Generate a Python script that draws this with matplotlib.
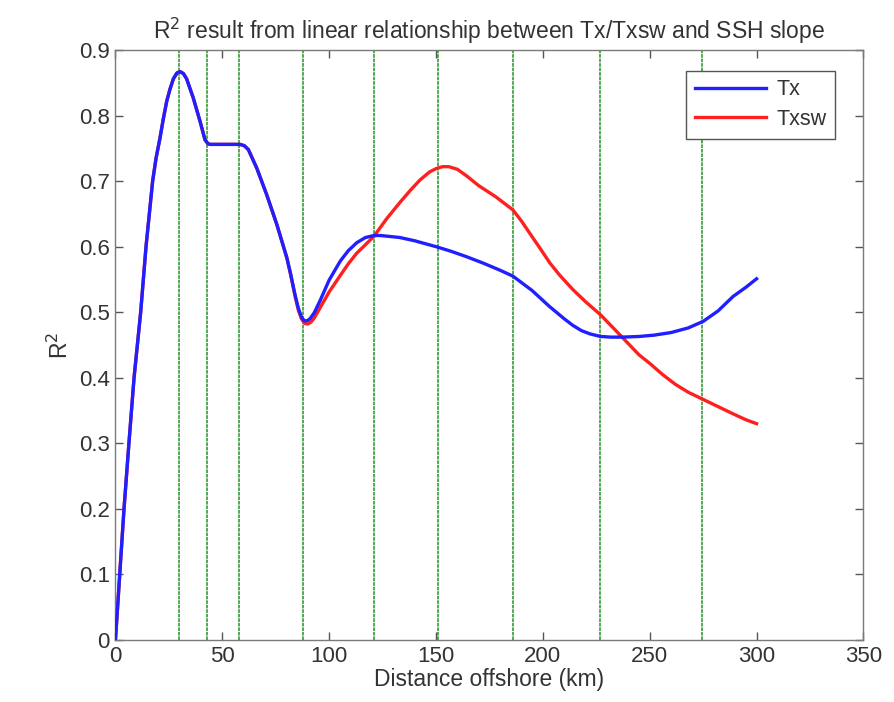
import matplotlib
matplotlib.use("Agg")
import matplotlib.pyplot as plt

plt.rcParams['font.family'] = ['Liberation Sans', 'DejaVu Sans']

# Distance offshore (km) and R^2 values
tx_x = [0, 2.0, 4.0, 6.3, 8.7, 11.8, 14.3, 17.4, 19.0, 20.8, 22.4, 24.0, 25.5, 27.1, 28.8,
        30.2, 31.8, 33.3, 36.4, 39.6, 41.9, 43.3, 44.3, 50, 55, 58.3, 60.3, 62.2, 66.1,
        70.8, 75.5, 80.2, 82.0, 84.0, 85.6, 87.0, 88.3, 89.7, 91.0, 93.0, 95.8, 100,
        105.2, 109, 112.9, 117, 121, 124, 127, 133, 140, 150, 157, 164, 172, 180, 186,
        195, 203, 210, 214, 218, 222, 227, 232, 237, 245, 252, 260, 268, 275, 282, 289,
        295, 300]
tx_y = [0, 0.10, 0.20, 0.30, 0.40, 0.50, 0.60, 0.70, 0.735, 0.765, 0.795, 0.822, 0.840,
        0.856, 0.865, 0.867, 0.864, 0.856, 0.827, 0.791, 0.763, 0.757, 0.756, 0.756,
        0.756, 0.756, 0.754, 0.748, 0.720, 0.679, 0.634, 0.583, 0.558, 0.527, 0.506,
        0.493, 0.487, 0.487, 0.490, 0.499, 0.518, 0.549, 0.578, 0.594, 0.606, 0.614,
        0.617, 0.617, 0.616, 0.614, 0.609, 0.600, 0.593, 0.585, 0.575, 0.564, 0.555,
        0.533, 0.509, 0.490, 0.480, 0.472, 0.467, 0.463, 0.462, 0.462, 0.463, 0.465,
        0.469, 0.476, 0.486, 0.502, 0.524, 0.538, 0.551]

txsw_x = [0, 2.0, 4.0, 6.3, 8.7, 11.8, 14.3, 17.4, 19.0, 20.8, 22.4, 24.0, 25.5, 27.1, 28.8,
          30.2, 31.8, 33.3, 36.4, 39.6, 41.9, 43.3, 44.3, 50, 55, 58.3, 60.3, 62.2, 66.1,
          70.8, 75.5, 80.2, 82.0, 84.0, 85.6, 87.0, 88.5, 90.0, 91.5, 93.0, 95.8, 100,
          105.2, 109, 112.9, 117, 121, 127, 133, 138, 142.6, 147, 150, 153, 156, 160,
          164.3, 170, 178, 186, 190, 195, 199, 203.3, 208, 214.2, 220, 227, 236.8, 245,
          250, 256, 262, 268, 275, 282, 289, 295, 300]
txsw_y = [0, 0.10, 0.20, 0.30, 0.40, 0.50, 0.60, 0.70, 0.735, 0.765, 0.795, 0.822, 0.840,
          0.856, 0.865, 0.867, 0.864, 0.856, 0.827, 0.791, 0.763, 0.757, 0.756, 0.756,
          0.756, 0.756, 0.754, 0.748, 0.720, 0.679, 0.634, 0.583, 0.557, 0.525, 0.503,
          0.490, 0.483, 0.482, 0.485, 0.491, 0.507, 0.531, 0.556, 0.574, 0.590, 0.603,
          0.616, 0.643, 0.667, 0.686, 0.702, 0.714, 0.719, 0.722, 0.722, 0.718, 0.708,
          0.693, 0.676, 0.656, 0.639, 0.615, 0.596, 0.575, 0.556, 0.534, 0.516, 0.496,
          0.463, 0.435, 0.422, 0.405, 0.390, 0.378, 0.367, 0.356, 0.345, 0.336, 0.330]

# Vertical reference lines (km)
vlines_x = [29.7, 42.7, 57.8, 87.7, 120.8, 150.7, 185.9, 226.9, 274.6]

xticks = [0, 50, 100, 150, 200, 250, 300, 350]
yticks = [0, 0.1, 0.2, 0.3, 0.4, 0.5, 0.6, 0.7, 0.8, 0.9]

fig = plt.figure(figsize=(8.95, 7.02), dpi=100)
ax = fig.add_axes([0.129, 0.0883, 0.8357, 0.8405])

for xv in vlines_x:
    ax.axvline(xv, color='#46a046', linestyle=(0, (2.0, 0.5)), linewidth=1.3, zorder=1)

ax.plot(tx_x, tx_y, color='#1f1fff', linewidth=2.4, label='Tx', zorder=3,
        solid_joinstyle='round')
ax.plot(txsw_x, txsw_y, color='#ff1f1f', linewidth=2.4, label='Txsw', zorder=2,
        solid_joinstyle='round')

ax.set_xlim(0, 350)
ax.set_ylim(0, 0.9)
ax.set_xticks(xticks)
ax.set_xticklabels([str(v) for v in xticks])
ax.set_yticks(yticks)
ax.set_yticklabels(['0'] + [f'{v:.1f}' for v in yticks[1:]])

for sp in ax.spines.values():
    sp.set_color('#7a7a7a')
    sp.set_linewidth(1.0)
ax.tick_params(direction='in', length=6, width=1.0, color='#555555',
               labelsize=16, labelcolor='#333333', top=True, right=True, pad=4)

ax.set_xlabel('Distance offshore (km)', fontsize=16.5, color='#333333', labelpad=1)
ax.set_ylabel('R$^2$', fontsize=16.5, color='#333333', labelpad=4)
ax.set_title('R$^2$ result from linear relationship between Tx/Txsw and SSH slope',
             fontsize=16.5, color='#333333', pad=8)

leg = ax.legend(loc='upper right', fontsize=15.5, handlelength=3.3, fancybox=False,
                framealpha=1, edgecolor='#555555', borderpad=0.4,
                bbox_to_anchor=(0.977, 0.983), labelspacing=0.4, handletextpad=0.5)
for t in leg.get_texts():
    t.set_color('#333333')
leg.get_frame().set_linewidth(1.0)

fig.savefig('out.png', dpi=100)
